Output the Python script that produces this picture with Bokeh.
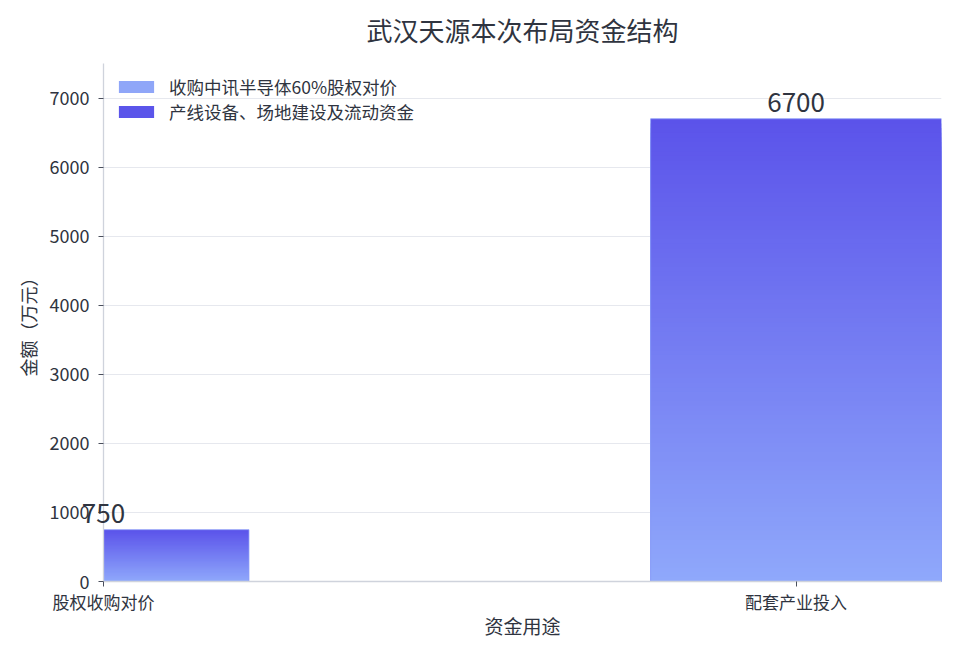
import numpy as np
from bokeh.plotting import figure
from bokeh.models import (Range1d, FixedTicker, ColumnDataSource, Legend,
                          LegendItem, Label)
from bokeh.embed import file_html
from bokeh.resources import INLINE

# ---------------- data ----------------
title_text = "武汉天源本次布局资金结构"
categories = ["股权收购对价", "配套产业投入"]
series_names = ["收购中讯半导体60%股权对价", "产线设备、场地建设及流动资金"]
amounts = [750, 6700]
label_texts = ["750", "6700"]
y_ticks = [0, 1000, 2000, 3000, 4000, 5000, 6000, 7000]
x_label = "资金用途"
y_label = "金额（万元）"

# ---------------- style ----------------
FONT = "Noto Sans CJK SC"
TEXT = "#2f3440"
TOP_COLOR = (0x5B, 0x53, 0xEA)
BOTTOM_COLOR = (0x8F, 0xA8, 0xFB)
LEGEND_COLORS = ["#8FA6F8", "#5B55EA"]
BAR_WIDTH = 0.42
N_STEPS = 100
FRAME_W, FRAME_H = 838, 518

positions = list(range(len(categories)))
x_end = positions[-1] + BAR_WIDTH / 2

p = figure(frame_width=FRAME_W, frame_height=FRAME_H,
           min_border_left=103, min_border_right=8,
           min_border_top=63, min_border_bottom=0,
           x_range=Range1d(0, x_end),
           y_range=Range1d(0, 7500),
           output_backend="svg", toolbar_location=None,
           background_fill_color="white", border_fill_color="white")
p.outline_line_color = None

# title drawn as a label in the top panel
p.title.visible = False
p.add_layout(Label(x=FRAME_W / 2, y=34, x_units="screen", y_units="screen",
                   text=title_text, text_align="center", text_baseline="middle",
                   text_font=FONT, text_font_size="26px", text_color=TEXT),
             "above")

# gradient bars: overlapping bars from tallest (dark) to shortest (light)
xs, tops, colors = [], [], []
for pos, v in zip(positions, amounts):
    for k in range(N_STEPS):
        f = 1 - k / N_STEPS          # fraction of bar height (1 = top)
        t = f - 0.5 / N_STEPS
        c = tuple(int(round(BOTTOM_COLOR[j] + (TOP_COLOR[j] - BOTTOM_COLOR[j]) * t)) for j in range(3))
        xs.append(pos)
        tops.append(v * f)
        colors.append("#%02x%02x%02x" % c)
src = ColumnDataSource(dict(x=xs, top=tops, color=colors))
p.vbar(x="x", bottom=0, top="top", width=BAR_WIDTH, source=src,
       fill_color="color", line_color=None)
# bar outline
p.vbar(x=positions, top=amounts, bottom=0, width=BAR_WIDTH,
       fill_color=None, line_color="#8c9ef7", line_width=1, line_alpha=0.8)

# legend-only renderers (zero-height bars)
legend_items = []
for name, col, pos in zip(series_names, LEGEND_COLORS, positions):
    r = p.vbar(x=[pos], top=[0], bottom=[0], width=0.0001,
               fill_color=col, line_color=None)
    legend_items.append(LegendItem(label=name, renderers=[r]))
legend = Legend(items=legend_items, location="top_left")
legend.border_line_color = None
legend.background_fill_alpha = 0
legend.label_text_font = FONT
legend.label_text_font_size = "17.5px"
legend.label_text_color = TEXT
legend.glyph_width = 44
legend.glyph_height = 15
legend.label_standoff = 11
legend.label_height = 20
legend.spacing = 0
legend.margin = 11
legend.padding = 7
p.add_layout(legend)

# value labels; the one on the plot-area edge goes into a side panel so that
# it is not clipped by the plot area
for pos, v, t in zip(positions, amounts, label_texts):
    lab = Label(x=pos, y=v, text=t, text_align="center",
                text_baseline="bottom", y_offset=7, text_font=FONT,
                text_font_size="26px", text_color=TEXT)
    if pos == positions[0]:
        lab.text_line_height = 0.3
        p.add_layout(lab, "below")
    else:
        p.add_layout(lab)

# axes
p.xaxis.ticker = FixedTicker(ticks=positions)
p.xaxis.major_label_overrides = {pos: c for pos, c in zip(positions, categories)}
p.yaxis.ticker = FixedTicker(ticks=y_ticks)
for ax in (p.xaxis[0], p.yaxis[0]):
    ax.axis_line_color = "#cfd3dc"
    ax.axis_line_width = 1.3
    ax.major_tick_line_color = "#4a4f5c"
    ax.major_tick_out = 5
    ax.major_tick_in = 0
    ax.minor_tick_line_color = None
    ax.major_label_text_font = FONT
    ax.major_label_text_color = TEXT
    ax.axis_label_text_font = FONT
    ax.axis_label_text_font_style = "normal"
    ax.axis_label_text_color = TEXT
p.xaxis.major_label_standoff = 2
p.yaxis.major_label_standoff = 9
p.xaxis.major_label_text_font_size = "17px"
p.yaxis.major_label_text_font_size = "18px"
p.xaxis.axis_label = x_label
p.yaxis.axis_label = y_label
p.xaxis.axis_label_text_font_size = "19px"
p.yaxis.axis_label_text_font_size = "18px"
p.xaxis.axis_label_standoff = -5
p.yaxis.axis_label_standoff = 6

p.xgrid.grid_line_color = None
p.ygrid.grid_line_color = "#e6e8ee"
p.ygrid.grid_line_width = 1

open("out.html", "w").write(file_html(p, INLINE))
